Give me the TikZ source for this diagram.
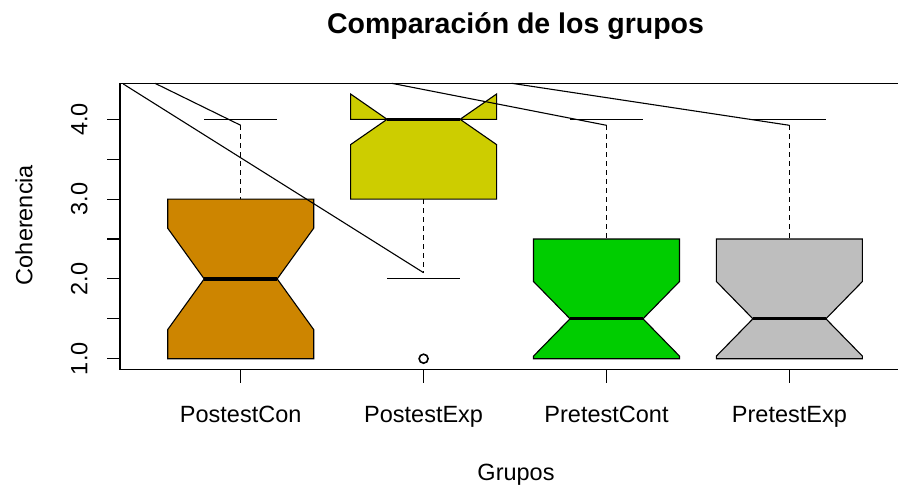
\documentclass[tikz,border=0pt]{standalone}
\usepackage{fontspec}
\setmainfont{Liberation Sans}
\definecolor{cOrange}{HTML}{CD8500}
\definecolor{cYellow}{HTML}{CDCD00}
\definecolor{cGreen}{HTML}{00CD00}
\definecolor{cGray}{HTML}{BEBEBE}
\tikzset{
  plotline/.style={line width=1.1pt, line cap=butt},
  whisk/.style={line width=1.1pt, dash pattern=on 5pt off 4pt},
  medline/.style={line width=3.3pt},
  tlabel/.style={font=\fontsize{23.5}{27}\selectfont, inner sep=0pt, anchor=base},
  ttitle/.style={font=\fontsize{28.5}{32}\selectfont\bfseries, inner sep=0pt, anchor=base},
}
\newcommand\nbox[7]{%
  \filldraw[fill=#7, plotline, line join=miter]
    (#1-73,#2) -- (#1-73,#3) -- (#1-36.5,#4) -- (#1-73,#5) -- (#1-73,#6) --
    (#1+73,#6) -- (#1+73,#5) -- (#1+36.5,#4) -- (#1+73,#3) -- (#1+73,#2) -- cycle;
  \draw[medline] (#1-36.5,#4) -- (#1+36.5,#4);}
\begin{document}
\begin{tikzpicture}[x=1pt,y=-1pt]
\useasboundingbox (0,0) rectangle (898,485);
\clip (0,0) rectangle (898,485);
\fill[white] (0,0) rectangle (898,485);
% box centres
\coordinate (c1) at (240.7,0);
\coordinate (c2) at (423.6,0);
\coordinate (c3) at (606.5,0);
\coordinate (c4) at (789.4,0);
% whiskers
\coordinate (w1a) at (240.7,125.3);
\coordinate (w2a) at (423.6,272.7);
\coordinate (w3a) at (606.5,125.3);
\coordinate (w4a) at (789.4,125.3);
\draw[whisk] (w1a) -- (240.7,199.1);
\draw[whisk] (423.6,199.1) -- (w2a);
\draw[whisk] (w3a) -- (606.5,239.0);
\draw[whisk] (w4a) -- (789.4,239.0);
% caps
\draw[plotline] (204.2,119.3) -- (277.2,119.3);
\draw[plotline] (204.2,358.7) -- (277.2,358.7);
\draw[plotline] (387.1,278.9) -- (460.1,278.9);
\draw[plotline] (570.0,119.3) -- (643.0,119.3);
\draw[plotline] (570.0,358.7) -- (643.0,358.7);
\draw[plotline] (752.9,119.3) -- (825.9,119.3);
\draw[plotline] (752.9,358.7) -- (825.9,358.7);
% boxes
\nbox{240.7}{358.7}{329.6}{278.9}{228.2}{199.1}{cOrange}
\nbox{423.6}{199.1}{144.6}{119.3}{94.0}{119.3}{cYellow}
\nbox{606.5}{358.7}{356.1}{318.8}{281.5}{239.0}{cGreen}
\nbox{789.4}{358.7}{356.1}{318.8}{281.5}{239.0}{cGray}
% outlier
\node[circle, draw, line width=1.6pt, minimum size=9pt, inner sep=0pt] (out2) at (423.6,358.7) {};
% stray lines
\coordinate (s1) at (123.3,84);
\coordinate (s2) at (155,83.3);
\coordinate (s3) at (391.7,83.3);
\coordinate (s4) at (511.7,83.3);
\draw[plotline] (s1) -- (w2a);
\draw[plotline] (s2) -- (w1a);
\draw[plotline] (s3) -- (w3a);
\draw[plotline] (s4) -- (w4a);
% frame
\draw[plotline] (120,83.3) rectangle (909.4,369.5);
% y ticks
\foreach \y in {119.3,159.2,199.1,239.0,278.9,318.8,358.7}
  \draw[plotline] (107,\y) -- (120,\y);
\node[tlabel, rotate=90] (y1) at (87.3,358.7) {1.0};
\node[tlabel, rotate=90] (y2) at (87.3,278.9) {2.0};
\node[tlabel, rotate=90] (y3) at (87.3,199.1) {3.0};
\node[tlabel, rotate=90] (y4) at (87.3,119.3) {4.0};
% x ticks
\foreach \x in {240.7,423.6,606.5,789.4}
  \draw[plotline] (\x,369.5) -- (\x,383);
\node[tlabel] (x1) at (240.7,422.3) {PostestCon};
\node[tlabel] (x2) at (423.6,422.3) {PostestExp};
\node[tlabel] (x3) at (606.5,422.3) {PretestCont};
\node[tlabel] (x4) at (789.4,422.3) {PretestExp};
% axis titles
\node[tlabel] (xt) at (516,480.5) {Grupos};
\node[tlabel, rotate=90] (yt) at (32.3,225) {Coherencia};
\node[ttitle] (title) at (515.5,33.3) {Comparación de los grupos};
\end{tikzpicture}
\end{document}
